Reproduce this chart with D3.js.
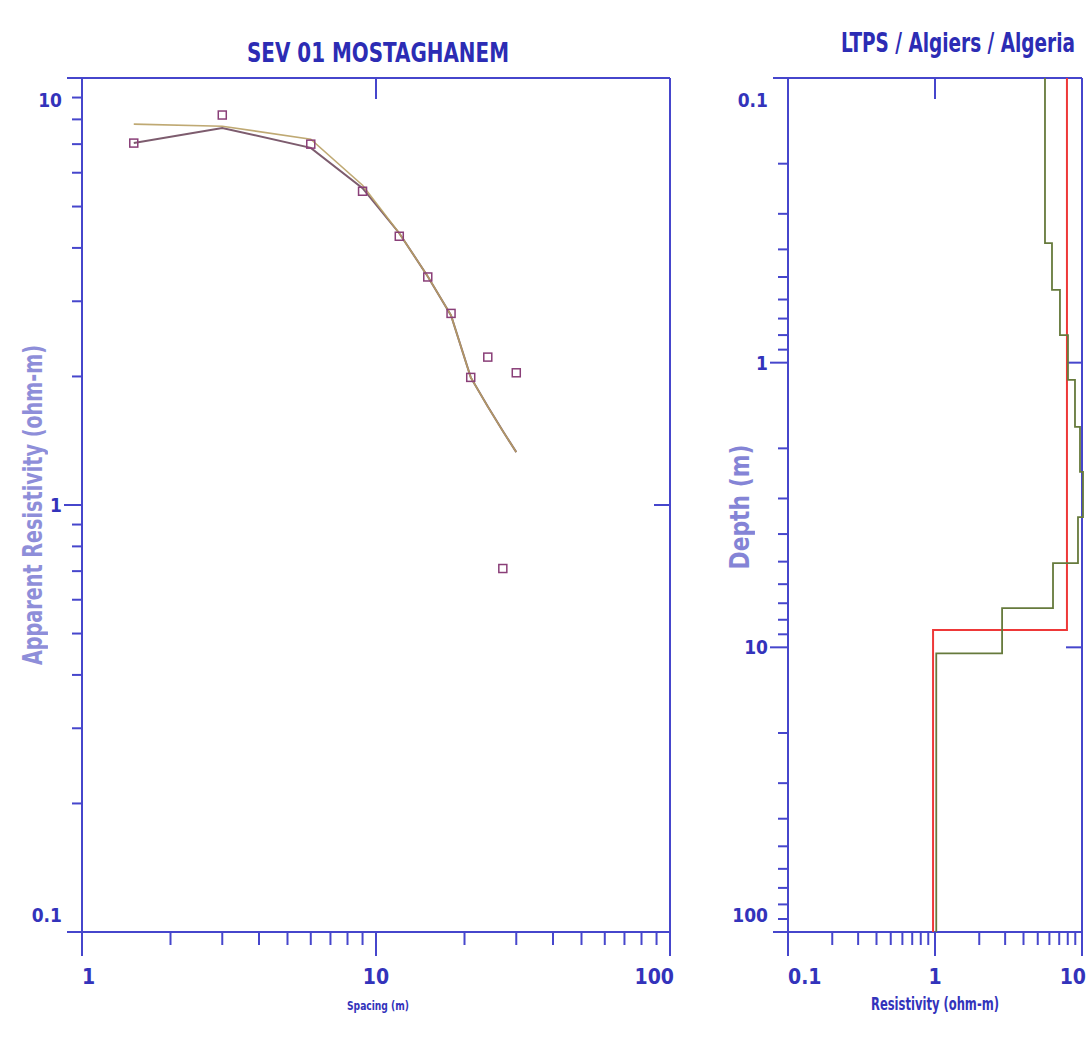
<!DOCTYPE html>
<html>
<head>
<meta charset="utf-8">
<script src="https://cdn.jsdelivr.net/npm/d3@7"></script>
<style>
  body { margin: 0; background: #ffffff; }
  svg text {
    font-family: "Liberation Sans Narrow", "DejaVu Sans Condensed", "Roboto", sans-serif;
    font-weight: bold;
    fill: #3333bb;
  }
</style>
</head>
<body>
<script>
// sounding curve data (left panel)
const spacing = [1.5, 3, 6, 9, 12, 15, 18, 21, 24, 27, 30];
const measuredRho = [7.04, 8.19, 7.0, 5.43, 4.26, 3.42, 2.81, 1.99, 2.22, 0.71, 2.04];
const calcRhoA = [7.80, 7.71, 7.19, 5.61, 4.33, 3.43, 2.78, 1.99, 1.70, 1.49, 1.33];
const calcRhoB = [7.04, 7.64, 6.86, 5.52, 4.33, 3.43, 2.78, 1.99, 1.70, 1.49, 1.33];

// layered models (right panel), depths are layer bottoms
const redRho = [7.9, 0.97];
const redDepth = [8.69];
const olivRho = [5.6, 6.25, 7.08, 8.03, 8.96, 9.69, 10.16, 9.39, 6.35, 2.86, 1.02];
const olivDepth = [0.38, 0.555, 0.80, 1.15, 1.68, 2.42, 3.49, 5.06, 7.28, 10.5];

// titles and axis labels
const leftTitle = "SEV 01 MOSTAGHANEM";
const rightTitle = "LTPS / Algiers / Algeria";
const leftXLabel = "Spacing (m)";
const leftYLabel = "Apparent Resistivity (ohm-m)";
const rightXLabel = "Resistivity (ohm-m)";
const rightYLabel = "Depth (m)";

const axisColour = "#4646cc";

var svg = d3.select("body")
            .append("svg")
            .attr("width", 1089)
            .attr("height", 1041);

svg.append("rect")
   .attr("width", 1089)
   .attr("height", 1041)
   .attr("fill", "#ffffff");

// scales for both panels
var xLeft = d3.scaleLog().domain([1, 100]).range([82, 670]);
var yLeft = d3.scaleLog().domain([0.1, 10]).range([932, 78]);
var xRight = d3.scaleLog().domain([0.1, 10]).range([788, 1082]);
var yRight = d3.scaleLog().domain([0.1, 100]).range([78, 932]);

const isDecade = function(v){
  return Math.abs(Math.log10(v) - Math.round(Math.log10(v))) < 1e-6;
};

// draws the box, ticks and tick labels of one panel
const drawFrame = function(xs, ys){
  var g = svg.append("g").attr("class", "frame");
  var x0 = xs.range()[0], x1 = xs.range()[1];
  var yTop = Math.min(...ys.range()), yBot = Math.max(...ys.range());

  var segs = [
    [x0 - 15, yTop, x1, yTop],
    [x0 - 15, yBot, x1, yBot],
    [x0, yTop, x0, yBot + 24],
    [x1, yTop, x1, yBot + 24]
  ];
  // bottom ticks, plus a top tick on inner decades
  for (var t of xs.ticks()){
    var px = xs(t);
    if (Math.abs(px - x0) < 1 || Math.abs(px - x1) < 1) continue;
    segs.push([px, yBot, px, yBot + (isDecade(t) ? 24 : 13)]);
    if (isDecade(t)) segs.push([px, yTop, px, yTop + 21]);
  }
  // left ticks, plus a right tick on inner decades
  for (var t of ys.ticks()){
    var py = ys(t);
    if (Math.abs(py - yTop) < 1 || Math.abs(py - yBot) < 1) continue;
    segs.push([x0, py, x0 - (isDecade(t) ? 18 : 10), py]);
    if (isDecade(t)) segs.push([x1, py, x1 - 16, py]);
  }
  g.selectAll("line")
   .data(segs).enter()
   .append("line")
   .attr("x1", d => d[0]).attr("y1", d => d[1])
   .attr("x2", d => d[2]).attr("y2", d => d[3])
   .attr("stroke", axisColour)
   .attr("stroke-width", 2);

  // x tick labels
  var xDec = xs.ticks().filter(isDecade);
  g.selectAll(".xlab")
   .data(xDec).enter()
   .append("text")
   .attr("class", "xlab")
   .attr("x", (d, i) => xs(d) + (i == xDec.length - 1 ? 4 : 0))
   .attr("y", yBot + 52)
   .attr("text-anchor", (d, i) => i == 0 ? "start" : (i == xDec.length - 1 ? "end" : "middle"))
   .style("font-size", "21px")
   .text(d => d3.format("~g")(d));

  // y tick labels, the end ones pulled inside the box
  var yDec = ys.ticks().filter(isDecade);
  g.selectAll(".ylab")
   .data(yDec).enter()
   .append("text")
   .attr("class", "ylab")
   .attr("x", x0 - 20)
   .attr("y", function(d){
      var py = ys(d);
      if (Math.abs(py - yTop) < 1) return yTop + 29;
      if (Math.abs(py - yBot) < 1) return yBot - 10;
      return py + 7;
   })
   .attr("text-anchor", "end")
   .style("font-size", "19px")
   .text(d => d3.format("~g")(d));
};

drawFrame(xLeft, yLeft);
drawFrame(xRight, yRight);

// titles
svg.append("text")
   .attr("x", 378).attr("y", 62)
   .attr("text-anchor", "middle")
   .attr("textLength", 262)
   .attr("lengthAdjust", "spacingAndGlyphs")
   .style("font-size", "27px")
   .style("fill", "#2c2cb4")
   .text(leftTitle);

svg.append("text")
   .attr("transform", "translate(958,52) scale(1,1.25)")
   .attr("text-anchor", "middle")
   .attr("textLength", 234)
   .attr("lengthAdjust", "spacingAndGlyphs")
   .style("font-size", "21px")
   .style("fill", "#2c2cb4")
   .text(rightTitle);

// axis titles
svg.append("text")
   .attr("x", 378).attr("y", 1010)
   .attr("text-anchor", "middle")
   .attr("textLength", 62)
   .attr("lengthAdjust", "spacingAndGlyphs")
   .style("font-size", "13px")
   .text(leftXLabel);

svg.append("text")
   .attr("x", 935).attr("y", 1010)
   .attr("text-anchor", "middle")
   .attr("textLength", 128)
   .attr("lengthAdjust", "spacingAndGlyphs")
   .style("font-size", "18px")
   .text(rightXLabel);

svg.append("text")
   .attr("transform", "translate(42,505) rotate(-90)")
   .attr("text-anchor", "middle")
   .attr("textLength", 320)
   .attr("lengthAdjust", "spacingAndGlyphs")
   .style("font-size", "26px")
   .style("opacity", 0.55)
   .text(leftYLabel);

svg.append("text")
   .attr("transform", "translate(749,507) rotate(-90)")
   .attr("text-anchor", "middle")
   .attr("textLength", 125)
   .attr("lengthAdjust", "spacingAndGlyphs")
   .style("font-size", "26px")
   .style("opacity", 0.6)
   .text(rightYLabel);

// sounding curves
var curve = d3.line()
              .x(d => xLeft(d[0]))
              .y(d => yLeft(d[1]));

svg.append("path")
   .attr("d", curve(d3.zip(spacing, calcRhoB)))
   .attr("fill", "none")
   .attr("stroke", "#7d5c6e")
   .attr("stroke-width", 2);

svg.append("path")
   .attr("d", curve(d3.zip(spacing, calcRhoA)))
   .attr("fill", "none")
   .attr("stroke", "#b8a064")
   .attr("stroke-width", 1.6)
   .attr("opacity", 0.9);

svg.selectAll(".obs")
   .data(d3.zip(spacing, measuredRho)).enter()
   .append("rect")
   .attr("class", "obs")
   .attr("x", d => xLeft(d[0]) - 4)
   .attr("y", d => yLeft(d[1]) - 4)
   .attr("width", 8)
   .attr("height", 8)
   .attr("fill", "none")
   .attr("stroke", "#8a3f78")
   .attr("stroke-width", 1.5);

// builds a step path from layer resistivities and bottoms
const stepPoints = function(rho, depth){
  var tops = [yRight.domain()[0]].concat(depth);
  var bots = depth.concat([yRight.domain()[1]]);
  var pts = [];
  for (var i = 0; i < rho.length; i++){
    pts.push([rho[i], tops[i]]);
    pts.push([rho[i], bots[i]]);
  }
  return pts;
};

var step = d3.line()
             .x(d => xRight(d[0]))
             .y(d => yRight(d[1]));

svg.append("path")
   .attr("d", step(stepPoints(redRho, redDepth)))
   .attr("fill", "none")
   .attr("stroke", "#ee3838")
   .attr("stroke-width", 2);

svg.append("path")
   .attr("d", step(stepPoints(olivRho, olivDepth)))
   .attr("fill", "none")
   .attr("stroke", "#667a3c")
   .attr("stroke-width", 1.8);
</script>
</body>
</html>
